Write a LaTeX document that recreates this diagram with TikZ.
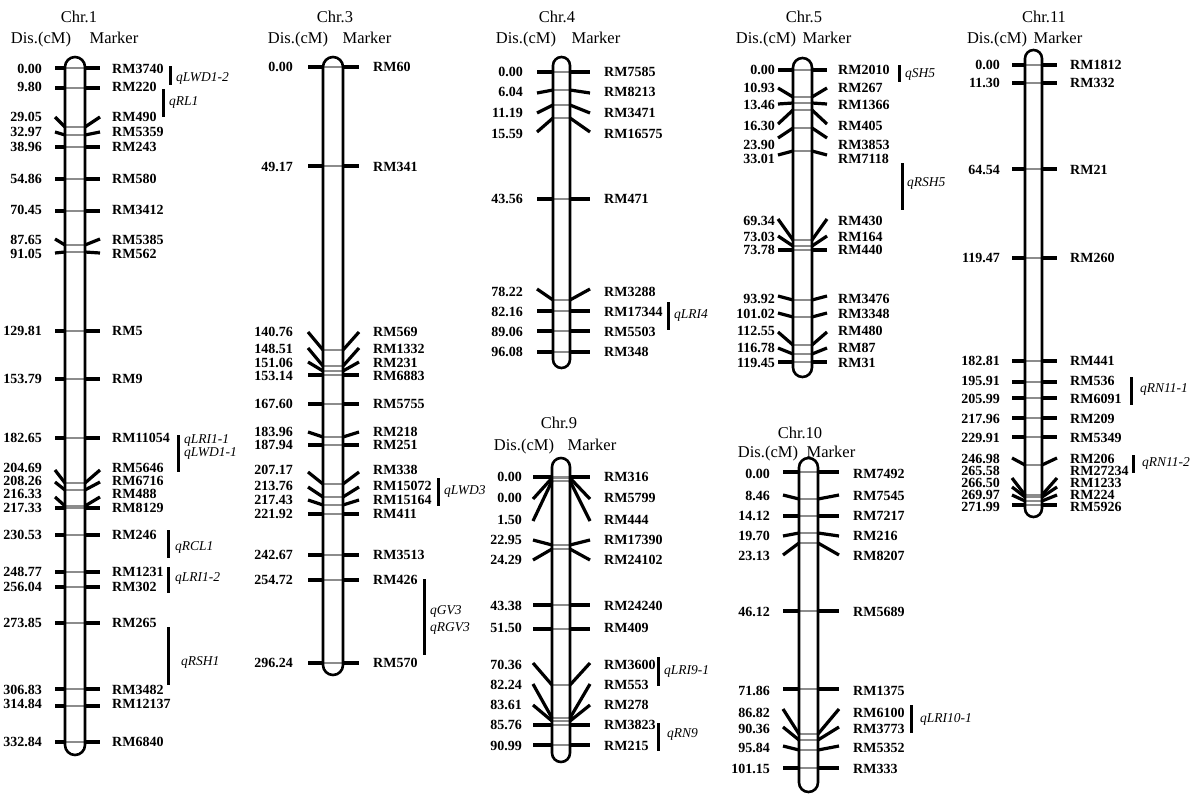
\documentclass[tikz,border=0pt]{standalone}
\usepackage{fontspec}
\setmainfont{Liberation Serif}
\tikzset{
  tube/.style={draw=black, line width=2.6pt},
  inner/.style={draw=black!45, line width=2pt},
  tick/.style={draw=black, line width=3.2pt},
  num/.style={anchor=east, inner sep=0pt, font=\fontsize{14}{14}\selectfont\bfseries},
  mk/.style={anchor=west, inner sep=0pt, font=\fontsize{14}{14}\selectfont\bfseries},
  qtl/.style={anchor=west, inner sep=0pt, font=\fontsize{13.5}{14}\selectfont\itshape},
  qbar/.style={draw=black, line width=3pt},
  hd/.style={anchor=base, inner sep=0pt, font=\fontsize{16.5}{17}\selectfont},
}
\newcommand\setchr[8]{\def\cxl{#1}\def\cxr{#2}\def\ctop{#3}\def\cbot{#4}\def\ctl{#5}\def\ctr{#6}\def\cnx{#7}\def\cmx{#8}}
\newcommand\drawchr[2]{%
  \foreach \d/\ty/\oy/\ly/\mk [count=\i] in {#2} {
    \draw[inner] (\cxl,\ty) -- (\cxr,\ty);
  }
  \pgfmathsetmacro\crad{(\cxr-\cxl)/2}
  \draw[tube, rounded corners=\crad pt] (\cxl,\ctop) rectangle (\cxr,\cbot);
  \foreach \d/\ty/\oy/\ly/\mk [count=\i] in {#2} {
    \coordinate (#1a\i) at (\ctl,\oy);
    \coordinate (#1b\i) at (\cxl,\ty);
    \coordinate (#1c\i) at (\cxr,\ty);
    \coordinate (#1d\i) at (\ctr,\oy);
    \draw[tick] (#1a\i) -- (#1b\i);
    \draw[tick] (#1c\i) -- (#1d\i);
    \node[num] (#1n\i) at (\cnx,\ly) {\d};
    \node[mk] (#1m\i) at (\cmx,\ly) {\mk};
  }
}
\begin{document}
\begin{tikzpicture}[x=1pt,y=-1pt]
\useasboundingbox (0,0) rectangle (1201,795);

% ---------- Chr.1
\node[hd] (t1) at (79,22) {Chr.1};
\node[hd] (h1a) at (41,43) {Dis.(cM)};
\node[hd] (h1b) at (114,43) {Marker};
\setchr{65}{85}{57}{755}{55}{100}{42}{112}
\drawchr{ca}{0.00/68/68/69/RM3740, 9.80/88/88/87/RM220, 29.05/127/117/117/RM490,
 32.97/135/132/132/RM5359, 38.96/147/147/147/RM243, 54.86/179/179/179/RM580,
 70.45/211/211/210/RM3412, 87.65/245/239/240/RM5385, 91.05/252/253/254/RM562,
 129.81/331/331/331/RM5, 153.79/379/379/379/RM9, 182.65/438/438/438/RM11054,
 204.69/483/470/468/RM5646, 208.26/490/482/481/RM6716, 216.33/506/497/494/RM488,
 217.33/508/508/508/RM8129, 230.53/535/535/535/RM246, 248.77/572/572/572/RM1231,
 256.04/587/587/587/RM302, 273.85/623/623/623/RM265, 306.83/689/689/690/RM3482,
 314.84/706/706/704/RM12137, 332.84/742/742/742/RM6840}
\coordinate (qa1t) at (170,66); \coordinate (qa1b) at (170,85);
\draw[qbar] (qa1t) -- (qa1b); \node[qtl] (qa1) at (176,78) {qLWD1-2};
\coordinate (qa2t) at (163,89); \coordinate (qa2b) at (163,117);
\draw[qbar] (qa2t) -- (qa2b); \node[qtl] (qa2) at (169,102) {qRL1};
\coordinate (qa3t) at (178,435); \coordinate (qa3b) at (178,472);
\draw[qbar] (qa3t) -- (qa3b); \node[qtl] (qa3) at (184,440) {qLRI1-1};
\node[qtl] (qa3x) at (184,453) {qLWD1-1};
\coordinate (qa4t) at (168,530); \coordinate (qa4b) at (168,558);
\draw[qbar] (qa4t) -- (qa4b); \node[qtl] (qa4) at (175,547) {qRCL1};
\coordinate (qa5t) at (168,567); \coordinate (qa5b) at (168,593);
\draw[qbar] (qa5t) -- (qa5b); \node[qtl] (qa5) at (175,578) {qLRI1-2};
\coordinate (qa6t) at (168,627); \coordinate (qa6b) at (168,685);
\draw[qbar] (qa6t) -- (qa6b); \node[qtl] (qa6) at (181,662) {qRSH1};

% ---------- Chr.3
\node[hd] (t3) at (335,22) {Chr.3};
\node[hd] (h3a) at (298,43) {Dis.(cM)};
\node[hd] (h3b) at (367,43) {Marker};
\setchr{323}{343}{57}{675}{308}{359}{293}{373}
\drawchr{cb}{0.00/67/67/67/RM60, 49.17/166/166/167/RM341, 140.76/350/332/332/RM569,
 148.51/366/348/349/RM1332, 151.06/371/362/363/RM231, 153.14/375/375/376/RM6883,
 167.60/404/404/404/RM5755, 183.96/437/432/432/RM218, 187.94/445/445/445/RM251,
 207.17/484/472/470/RM338, 213.76/497/487/486/RM15072, 217.43/505/500/500/RM15164,
 221.92/514/514/514/RM411, 242.67/555/555/555/RM3513, 254.72/580/580/580/RM426,
 296.24/663/663/663/RM570}
\coordinate (qb1t) at (438,478); \coordinate (qb1b) at (438,506);
\draw[qbar] (qb1t) -- (qb1b); \node[qtl] (qb1) at (444,491) {qLWD3};
\coordinate (qb2t) at (424,579); \coordinate (qb2b) at (424,655);
\draw[qbar] (qb2t) -- (qb2b); \node[qtl] (qb2) at (430,611) {qGV3};
\node[qtl] (qb2x) at (430,628) {qRGV3};

% ---------- Chr.4
\node[hd] (t4) at (557,22) {Chr.4};
\node[hd] (h4a) at (526,43) {Dis.(cM)};
\node[hd] (h4b) at (596,43) {Marker};
\setchr{553}{570}{57}{368}{537}{590}{523}{604}
\drawchr{cc}{0.00/72/72/72/RM7585, 6.04/90/93/92/RM8213, 11.19/105/113/113/RM3471,
 15.59/118/132/134/RM16575, 43.56/199/199/199/RM471, 78.22/300/289/292/RM3288,
 82.16/311/311/312/RM17344, 89.06/331/331/332/RM5503, 96.08/352/352/352/RM348}
\coordinate (qc1t) at (668,302); \coordinate (qc1b) at (668,330);
\draw[qbar] (qc1t) -- (qc1b); \node[qtl] (qc1) at (674,315) {qLRI4};

% ---------- Chr.5
\node[hd] (t5) at (804,22) {Chr.5};
\node[hd] (h5a) at (766,43) {Dis.(cM)};
\node[hd] (h5b) at (827,43) {Marker};
\setchr{793}{812}{58}{377}{778}{827}{775}{838}
\drawchr{cd}{0.00/70/70/70/RM2010, 10.93/97/88/88/RM267, 13.46/103/104/105/RM1366,
 16.30/110/124/126/RM405, 23.90/128/138/145/RM3853, 33.01/151/155/159/RM7118,
 69.34/240/219/221/RM430, 73.03/246/236/237/RM164, 73.78/250/250/250/RM440,
 93.92/300/296/299/RM3476, 101.02/317/313/314/RM3348, 112.55/345/332/331/RM480,
 116.78/354/348/348/RM87, 119.45/362/362/363/RM31}
\coordinate (qd1t) at (899,65); \coordinate (qd1b) at (899,82);
\draw[qbar] (qd1t) -- (qd1b); \node[qtl] (qd1) at (905,74) {qSH5};
\coordinate (qd2t) at (902,163); \coordinate (qd2b) at (902,210);
\draw[qbar] (qd2t) -- (qd2b); \node[qtl] (qd2) at (907,183) {qRSH5};

% ---------- Chr.9
\node[hd] (t9) at (559,428) {Chr.9};
\node[hd] (h9a) at (524,450) {Dis.(cM)};
\node[hd] (h9b) at (592,450) {Marker};
\setchr{552}{570}{458}{762}{533}{590}{522}{604}
\drawchr{ce}{0.00/477/477/477/RM316, 0.00/478/499/498/RM5799, 1.50/481/521/520/RM444,
 22.95/545/540/540/RM17390, 24.29/549/560/560/RM24102, 43.38/605/605/606/RM24240,
 51.50/629/629/628/RM409, 70.36/685/663/665/RM3600, 82.24/718/684/685/RM553,
 83.61/721/705/705/RM278, 85.76/725/725/725/RM3823, 90.99/745/745/746/RM215}
\coordinate (qe1t) at (658,657); \coordinate (qe1b) at (658,686);
\draw[qbar] (qe1t) -- (qe1b); \node[qtl] (qe1) at (664,671) {qLRI9-1};
\coordinate (qe2t) at (658,723); \coordinate (qe2b) at (658,751);
\draw[qbar] (qe2t) -- (qe2b); \node[qtl] (qe2) at (667,734) {qRN9};

% ---------- Chr.10
\node[hd] (t10) at (800,438) {Chr.10};
\node[hd] (h10a) at (768,457) {Dis.(cM)};
\node[hd] (h10b) at (831,457) {Marker};
\setchr{799}{818}{458}{792}{783}{839}{770}{853}
\drawchr{cf}{0.00/472/472/474/RM7492, 8.46/499/495/496/RM7545, 14.12/516/516/516/RM7217,
 19.70/533/536/536/RM216, 23.13/543/555/556/RM8207, 46.12/611/611/612/RM5689,
 71.86/689/689/691/RM1375, 86.82/734/709/713/RM6100, 90.36/740/727/729/RM3773,
 95.84/750/746/748/RM5352, 101.15/768/768/769/RM333}
\coordinate (qf1t) at (911,705); \coordinate (qf1b) at (911,733);
\draw[qbar] (qf1t) -- (qf1b); \node[qtl] (qf1) at (920,719) {qLRI10-1};

% ---------- Chr.11
\node[hd] (t11) at (1044,22) {Chr.11};
\node[hd] (h11a) at (997,43) {Dis.(cM)};
\node[hd] (h11b) at (1058,43) {Marker};
\setchr{1025}{1042}{50}{517}{1012}{1057}{1000}{1070}
\drawchr{cg}{0.00/65/65/65/RM1812, 11.30/83/83/83/RM332, 64.54/169/169/170/RM21,
 119.47/258/258/258/RM260, 182.81/361/361/361/RM441, 195.91/382/382/381/RM536,
 205.99/398/398/399/RM6091, 217.96/418/418/419/RM209, 229.91/437/437/438/RM5349,
 246.98/465/458/459/RM206, 265.58/495/478/471/RM27234, 266.50/497/487/483/RM1233,
 269.97/501/495/495/RM224, 271.99/505/505/507/RM5926}
\coordinate (qg1t) at (1131,377); \coordinate (qg1b) at (1131,405);
\draw[qbar] (qg1t) -- (qg1b); \node[qtl] (qg1) at (1140,389) {qRN11-1};
\coordinate (qg2t) at (1133,455); \coordinate (qg2b) at (1133,473);
\draw[qbar] (qg2t) -- (qg2b); \node[qtl] (qg2) at (1142,463) {qRN11-2};
\end{tikzpicture}
\end{document}
